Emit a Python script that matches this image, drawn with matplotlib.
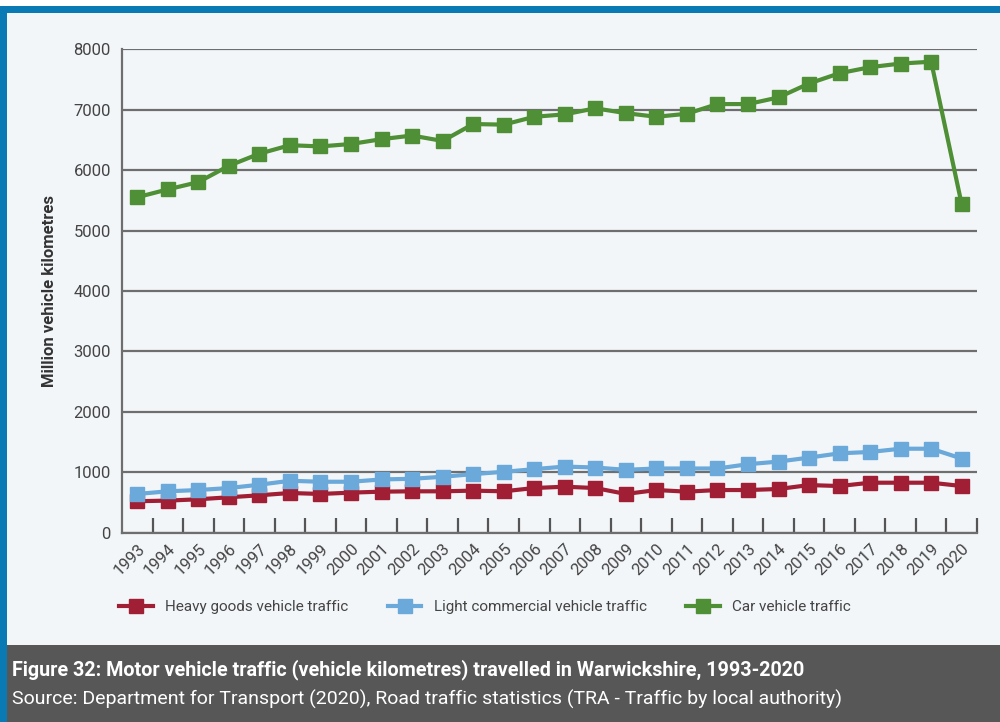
import matplotlib
matplotlib.use("Agg")
import matplotlib.pyplot as plt
from matplotlib.patches import Rectangle
from matplotlib.ticker import FixedLocator

years = [str(y) for y in range(1993, 2021)]
hgv = [525, 535, 557, 590, 623, 661, 645, 667, 683, 689, 689, 700, 689, 743,
       765, 743, 645, 710, 683, 710, 710, 727, 792, 776, 831, 831, 831, 776]
lcv = [645, 689, 710, 743, 798, 863, 847, 847, 885, 896, 929, 973, 1011, 1055,
       1098, 1082, 1044, 1066, 1066, 1066, 1137, 1180, 1246, 1317, 1339, 1393, 1393, 1230]
car = [5550, 5680, 5800, 6070, 6270, 6410, 6390, 6430, 6510, 6570, 6480, 6760, 6750, 6880,
       6920, 7020, 6940, 6880, 6930, 7090, 7090, 7200, 7430, 7600, 7700, 7760, 7790, 5430]
series_names = ["Heavy goods vehicle traffic", "Light commercial vehicle traffic", "Car vehicle traffic"]
colors = ["#a01f35", "#6aa9d9", "#4f8f35"]
yticks = [0, 1000, 2000, 3000, 4000, 5000, 6000, 7000, 8000]

font = "Roboto"
plt.rcParams['font.family'] = [font, 'DejaVu Sans']

bg = "#f3f6f9"
fig = plt.figure(figsize=(10, 7.22), dpi=100)
fig.patch.set_facecolor("white")

fig.patches.append(Rectangle((0.007, 0), 0.993, 0.982, transform=fig.transFigure,
                             facecolor=bg, edgecolor="none", zorder=-3))
fig.patches.append(Rectangle((0, 0.982), 1, 0.009, transform=fig.transFigure,
                             facecolor="#0a7ab5", edgecolor="none", zorder=-2))
fig.patches.append(Rectangle((0, 0), 0.007, 0.991, transform=fig.transFigure,
                             facecolor="#0a7ab5", edgecolor="none", zorder=-2))
fig.patches.append(Rectangle((0.007, 0), 0.993, 0.107, transform=fig.transFigure,
                             facecolor="#575757", edgecolor="none", zorder=-2))

ax = fig.add_axes([0.122, 0.2618, 0.855, 0.6703])
ax.set_facecolor(bg)
x = list(range(len(years)))
for vals, name, c in zip([hgv, lcv, car], series_names, colors):
    ax.plot(x, vals, color=c, lw=3, marker="s", markersize=9.5, label=name,
            solid_joinstyle="round", zorder=3)

ax.set_xlim(-0.5, len(years) - 0.5)
ax.set_ylim(0, 8000)
ax.set_yticks(yticks)
ax.set_yticklabels([str(v) for v in yticks], fontsize=12, color="#444444")
ax.yaxis.grid(True, color="#6e6e6e", lw=1.6)
ax.set_axisbelow(True)
ax.tick_params(axis="y", length=0, pad=8)

ax.set_xticks(x)
ax.set_xticklabels(years, rotation=45, ha="right", rotation_mode="anchor",
                   fontsize=12, color="#444444")
ax.tick_params(axis="x", which="major", length=0, pad=6)
ax.xaxis.set_minor_locator(FixedLocator([i + 0.5 for i in range(len(years))]))
ax.tick_params(axis="x", which="minor", direction="in", length=11, width=1.6, color="#555555")

for s in ["top", "right"]:
    ax.spines[s].set_visible(False)
for s in ["left", "bottom"]:
    ax.spines[s].set_color("#6e6e6e")
    ax.spines[s].set_linewidth(1.6)

ax.set_ylabel("Million vehicle kilometres", fontsize=12, fontweight="bold",
              color="#333333", labelpad=12)

leg = fig.legend(loc="center", bbox_to_anchor=(0.485, 0.159), ncol=3, frameon=False,
                 fontsize=11, handlelength=2.2, columnspacing=2.6, markerscale=1.0)
for t in leg.get_texts():
    t.set_color("#444444")

fig.text(0.012, 0.073, "Figure 32: Motor vehicle traffic (vehicle kilometres) travelled in Warwickshire, 1993-2020",
         color="white", fontsize=14.2, fontweight="bold", va="center", ha="left")
fig.text(0.012, 0.031, "Source: Department for Transport (2020), Road traffic statistics (TRA - Traffic by local authority)",
         color="white", fontsize=14, va="center", ha="left")

fig.savefig("out.png", dpi=100, facecolor=fig.get_facecolor())
